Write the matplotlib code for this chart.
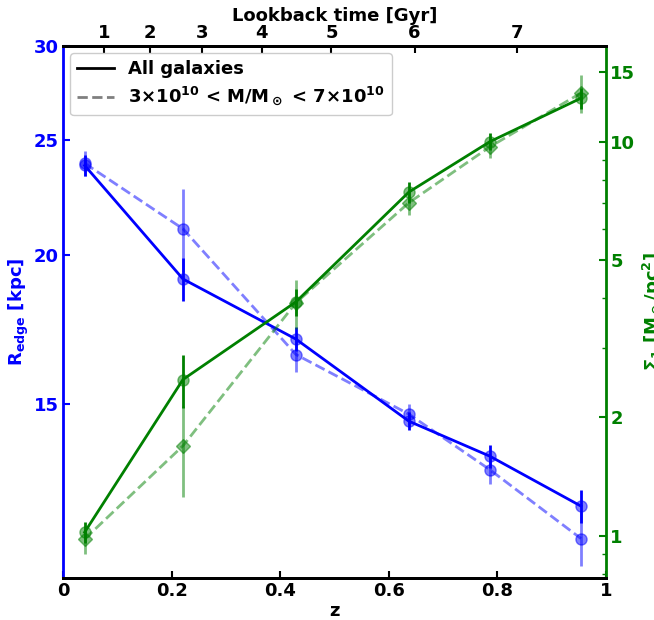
import matplotlib
matplotlib.use("Agg")
import matplotlib.pyplot as plt
from matplotlib.lines import Line2D
from matplotlib.ticker import FixedLocator, FixedFormatter, NullLocator, LogLocator, NullFormatter
import numpy as np

# redshift bins
z = [0.04, 0.221, 0.429, 0.637, 0.786, 0.954]

# all galaxies
r_all = [23.8, 19.1, 17.0, 14.5, 13.55, 12.3]
r_all_err = [0.5, 0.8, 0.4, 0.25, 0.3, 0.4]
sig_all = [1.02, 2.49, 3.92, 7.45, 10.0, 12.9]
sig_all_err = [0.06, 0.38, 0.3, 0.45, 0.5, 0.8]

# mass bin 3e10 - 7e10
r_mb = [23.9, 21.05, 16.5, 14.7, 13.2, 11.55]
r_mb_err = [0.6, 1.7, 0.55, 0.3, 0.35, 0.6]
sig_mb = [0.98, 1.69, 3.9, 7.0, 9.7, 13.3]
sig_mb_err = [0.08, 0.44, 0.55, 0.5, 0.6, 1.5]

r_ticks = [15, 20, 25, 30]
sig_ticks = [1, 2, 5, 10, 15]
lookback_ticks = [1, 2, 3, 4, 5, 6, 7]

BLUE = '#0000ff'
GREEN = '#008000'


def lookback_time(zz, h0=70.0, om=0.3):
    # flat LCDM, Gyr
    zg = np.linspace(0, zz, 2000)
    ez = np.sqrt(om * (1 + zg) ** 3 + 1 - om)
    return 977.8 / h0 * np.trapezoid(1.0 / ((1 + zg) * ez), zg)


def main():
    plt.rcParams['font.weight'] = 'bold'
    plt.rcParams['font.size'] = 13
    plt.rcParams['mathtext.fontset'] = 'dejavusans'
    plt.rcParams['mathtext.default'] = 'bf'

    fig = plt.figure(figsize=(6.54, 6.20), dpi=100)
    ax = fig.add_axes([0.0963, 0.0677, 0.8303, 0.8581])
    ax2 = ax.twinx()
    ax3 = ax.twiny()

    # radius
    ax.plot(z, r_all, '-', color=BLUE, lw=2)
    ax.errorbar(z, r_all, yerr=r_all_err, fmt='none', ecolor=BLUE, elinewidth=2)
    ax.plot(z, r_all, 'o', color=BLUE, ms=8, alpha=0.5)
    ax.plot(z, r_mb, '--', color=BLUE, lw=2, alpha=0.5)
    ax.errorbar(z, r_mb, yerr=r_mb_err, fmt='o', color=BLUE, ms=8, elinewidth=2, alpha=0.5)

    # surface density
    ax2.plot(z, sig_all, '-', color=GREEN, lw=2)
    ax2.errorbar(z, sig_all, yerr=sig_all_err, fmt='none', ecolor=GREEN, elinewidth=2)
    ax2.plot(z, sig_all, 'o', color=GREEN, ms=8, alpha=0.5)
    ax2.plot(z, sig_mb, '--', color=GREEN, lw=2, alpha=0.5)
    ax2.errorbar(z, sig_mb, yerr=sig_mb_err, fmt='D', color=GREEN, ms=7, elinewidth=2, alpha=0.5)

    ax.set_xlim(0, 1)
    ax.set_xticks([0, 0.2, 0.4, 0.6, 0.8, 1])
    ax.set_xticklabels(['0', '0.2', '0.4', '0.6', '0.8', '1'])
    ax.set_xlabel('z', fontweight='bold', labelpad=1)

    ax.set_yscale('log')
    ax.set_ylim(10.7, 30)
    ax.yaxis.set_major_locator(FixedLocator(r_ticks))
    ax.yaxis.set_major_formatter(FixedFormatter([str(t) for t in r_ticks]))
    ax.yaxis.set_minor_locator(NullLocator())
    ax.set_ylabel(r'R$_{edge}$ [kpc]', color=BLUE, fontweight='bold', labelpad=2)

    ax2.set_yscale('log')
    ax2.set_ylim(0.78, 17.5)
    ax2.yaxis.set_major_locator(FixedLocator(sig_ticks))
    ax2.yaxis.set_major_formatter(FixedFormatter([str(t) for t in sig_ticks]))
    ax2.yaxis.set_minor_locator(LogLocator(subs=np.arange(2, 10)))
    ax2.yaxis.set_minor_formatter(NullFormatter())
    ax2.set_ylabel(r'$\Sigma_1$ [M$_\odot$/pc$^2$]', color=GREEN, fontweight='bold', labelpad=4)

    # top axis: lookback time
    ax3.set_xlim(0, 1)
    zgrid = np.linspace(0, 1, 501)
    tgrid = np.array([lookback_time(v) for v in zgrid])
    ax3.set_xticks(np.interp(lookback_ticks, tgrid, zgrid))
    ax3.set_xticklabels([str(t) for t in lookback_ticks])
    ax3.set_xlabel('Lookback time [Gyr]', fontweight='bold', labelpad=2)

    for a in (ax, ax2, ax3):
        a.tick_params(direction='in', width=1.5, length=5, which='major', pad=3)
        a.tick_params(direction='in', width=1, length=3, which='minor')
        for s in a.spines.values():
            s.set_linewidth(2)
    ax.tick_params(axis='y', colors=BLUE, which='both')
    ax2.tick_params(axis='y', colors=GREEN, which='both')
    ax.spines['left'].set_color(BLUE)
    ax.spines['right'].set_visible(False)
    ax2.spines['right'].set_color(GREEN)
    ax2.spines['left'].set_visible(False)
    ax3.spines['left'].set_visible(False)
    ax3.spines['right'].set_visible(False)

    handles = [Line2D([], [], color='black', lw=2),
               Line2D([], [], color='black', lw=2, ls='--', alpha=0.5)]
    labels = ['All galaxies', r'3$\times$10$^{10}$ < M/M$_\odot$ < 7$\times$10$^{10}$']
    leg = ax3.legend(handles, labels, loc='upper left', fontsize=13, framealpha=1,
                     labelspacing=0.35, borderaxespad=0.4)
    for t in leg.get_texts():
        t.set_fontweight('bold')

    fig.savefig('out.png', dpi=100)


if __name__ == "__main__":
    main()
